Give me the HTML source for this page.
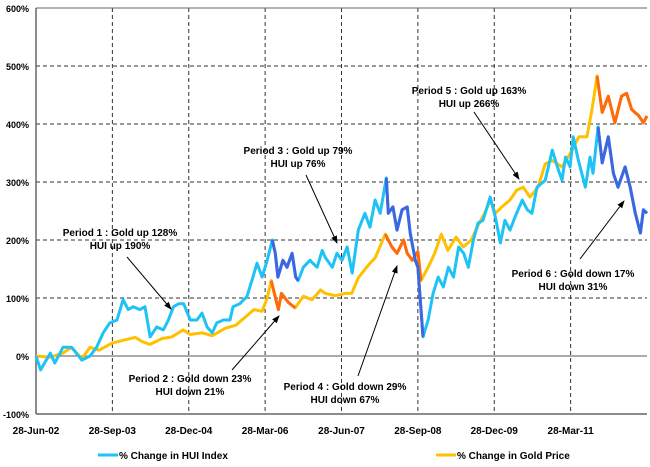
<!DOCTYPE html>
<html><head><meta charset="utf-8"><style>
body{margin:0;background:#fff;}
svg text{font-family:"Liberation Sans",Arial,sans-serif;font-weight:bold;fill:#000;}
</style></head><body>
<svg id="chart" width="650" height="462" viewBox="0 0 650 462" xmlns="http://www.w3.org/2000/svg">
<defs><marker id="ah" markerWidth="8" markerHeight="8" refX="7" refY="4" orient="auto" markerUnits="userSpaceOnUse"><path d="M0,1 L8,4 L0,7 Z" fill="#000"/></marker></defs>
<g id="grid"></g>
<g id="axes"></g>
<g id="series"></g>
<g id="notes"></g>
<g id="legend">
<line x1="98" y1="455" x2="118" y2="455" stroke="#1ec3f5" stroke-width="3"/>
<text x="119" y="459" font-size="10">% Change in HUI Index</text>
<line x1="436" y1="455" x2="456" y2="455" stroke="#ffc000" stroke-width="3"/>
<text x="457" y="459" font-size="10">% Change in Gold Price</text>
</g>
</svg>
<script>
const yTicks=[-100,0,100,200,300,400,500,600];
const xTickMonths=[0,15,30,45,60,75,90,105];
const xTickLabels=["28-Jun-02","28-Sep-03","28-Dec-04","28-Mar-06","28-Jun-07","28-Sep-08","28-Dec-09","28-Mar-11"];
const huiMonths=[0,0.9,2.8,3.7,5.3,7,9,10.6,11.9,13.2,14.5,15.9,17.1,18.1,19.1,20.4,21.4,22.4,23.7,25,26,27,28,29,30.3,31.6,32.6,33.6,34.6,35.5,36.8,38.1,38.7,40,41.4,42.4,43.4,44.4,45.4,46.4,47,47.5,48.5,49.3,50.3,51,51.5,52.5,53.8,55.2,56.2,56.8,58.2,59.1,60.1,61.1,62.1,63.3,64.6,65.6,66.6,67.6,68.8,69.2,70.1,70.9,71.9,72.9,73.5,74.5,75,76,77,78,79,80,81,82,83,84,84.9,85.9,86.8,87.8,89.2,90.2,91.2,92.1,93.1,94.1,95.5,96.5,97.4,98.4,100,101.4,102.4,103.3,104,104.9,105.5,106.5,107.9,108.8,109.4,110.4,111.2,112.4,113.4,114.3,115.7,116.7,117.7,118.7,119.3,120];
const huiValues=[0,-24,5,-12,15,15,-7,0,15,40,57,62,97,80,85,80,85,33,50,45,62,85,90,90,62,62,74,50,40,57,62,62,85,90,102,130,160,136,165,200,177,136,165,153,177,136,130,153,165,153,182,170,153,177,165,188,143,217,246,222,269,246,307,246,257,217,252,257,212,165,153,33,62,108,136,119,153,136,188,177,153,200,229,234,274,240,195,234,217,240,269,252,246,291,303,355,326,303,343,326,378,338,291,343,315,395,333,378,315,291,326,291,246,212,252,246];
const goldMonths=[0,2.8,5.3,7,9,10.6,12.4,14.9,17.5,19.5,20.8,22.4,24.7,26.7,28.9,30.3,32.6,34.6,37.2,39.2,41.1,42.8,44.4,45.4,46.2,47.6,48.2,49.6,50.9,52.5,54.2,55.9,56.8,58.8,60.7,62,63.3,65.3,66.6,68.6,69.9,70.9,72.2,72.9,73.9,75,75.6,77,78.3,79.6,80.9,82.5,83.9,85.5,86.8,88.1,89.2,90.2,91.5,93.1,94.4,95.7,97,98.6,100,101.4,103.3,105.3,106.6,108.2,109.2,110.2,111.2,112.4,113.7,115,116,117,118.4,119.3,120];
const goldValues=[0,-2,5,15,-5,15,10,22,28,32,25,20,30,33,45,37,40,35,48,53,67,80,77,100,130,80,108,92,83,103,97,114,108,104,108,108,135,157,169,210,188,177,200,177,165,180,130,153,177,210,182,205,188,200,225,246,269,246,257,269,286,291,274,291,331,337,326,355,378,378,425,483,420,448,402,448,453,425,414,402,414];
const huiDownStart=[46.4,68.8,110.4];
const huiDownEnd=[51.5,76,120];
const goldDownStart=[46.2,68.6,110.2];
const goldDownEnd=[50.9,75.6,120];

const NS="http://www.w3.org/2000/svg";
const X0=36,X1=647,Y0=414,Y1=8;
const xS=m=>X0+m*(X1-X0)/120;
const yS=v=>Y0-(v+100)*(Y0-Y1)/700;
function mk(tag,attrs,parent){const e=document.createElementNS(NS,tag);for(const k in attrs)e.setAttribute(k,attrs[k]);parent.appendChild(e);return e;}
const grid=document.getElementById('grid'),axes=document.getElementById('axes'),ser=document.getElementById('series');
yTicks.forEach(v=>{
  if(v!==-100&&v!==0){const l=mk('line',{x1:X0,x2:X1,y1:yS(v),y2:yS(v),stroke:'#333','stroke-width':1,'stroke-dasharray':'4,3'},grid);
  
  }
  const t=mk('text',{x:29,y:yS(v)+4,'text-anchor':'end','font-size':'9'},axes);t.textContent=v+'%';
  
  
});
xTickMonths.forEach((m,i)=>{
  if(m>0){const l=mk('line',{x1:xS(m),x2:xS(m),y1:Y1,y2:Y0,stroke:'#333','stroke-width':1,'stroke-dasharray':'4,3'},grid);
  
  }
  const t=mk('text',{x:xS(m),y:434,'text-anchor':'middle','font-size':'10'},axes);t.textContent=xTickLabels[i];
  
  
});
const zl=mk('line',{x1:X0,x2:X1,y1:yS(0),y2:yS(0),stroke:'#555','stroke-width':1},axes);


const ya=mk('line',{x1:X0,x2:X0,y1:Y1,y2:Y0,stroke:'#666','stroke-width':1.5},axes);


const xa=mk('line',{x1:X0,x2:X1,y1:Y0,y2:Y0,stroke:'#666','stroke-width':1.5},axes);


const ta=mk('line',{x1:X0,x2:X1,y1:Y1,y2:Y1,stroke:'#666','stroke-width':1},axes);


function path(ms,vs,lo,hi){let d='';ms.forEach((m,i)=>{if(m>=lo-0.01&&m<=hi+0.01)d+=(d?'L':'M')+xS(m).toFixed(1)+','+yS(vs[i]).toFixed(1);});return d;}
const g1=mk('path',{d:path(goldMonths,goldValues,0,120),fill:'none',stroke:'#ffc000','stroke-width':3,'stroke-linejoin':'round'},ser);


goldDownStart.forEach((s,i)=>{const p=mk('path',{d:path(goldMonths,goldValues,s,goldDownEnd[i]),fill:'none',stroke:'#ff6a10','stroke-width':3,'stroke-linejoin':'round'},ser);

});
const h1=mk('path',{d:path(huiMonths,huiValues,0,120),fill:'none',stroke:'#1ec3f5','stroke-width':3,'stroke-linejoin':'round'},ser);


huiDownStart.forEach((s,i)=>{const p=mk('path',{d:path(huiMonths,huiValues,s,huiDownEnd[i]),fill:'none',stroke:'#3d66e0','stroke-width':3,'stroke-linejoin':'round'},ser);

});
const notes=document.getElementById('notes');
const ann=[
 ["Period 1 : Gold up 128%","HUI up 190%",120,236,127,257,171,309],
 ["Period 2 : Gold down 23%","HUI down 21%",190,382,232,370,279,316],
 ["Period 3 : Gold up 79%","HUI up 76%",298,154,306,175,337,243],
 ["Period 4 : Gold down 29%","HUI down 67%",345,390,358,376,397,266],
 ["Period 5 : Gold up 163%","HUI up 266%",469,94,474,112,519,179],
 ["Period 6 : Gold down 17%","HUI down 31%",573,277,580,259,624,201]];
ann.forEach((a,i)=>{
 const t1=mk('text',{x:a[2],y:a[3],'text-anchor':'middle','font-size':'10'},notes);t1.textContent=a[0];
 
 
 const t2=mk('text',{x:a[2],y:a[3]+13,'text-anchor':'middle','font-size':'10'},notes);t2.textContent=a[1];
 
 
 const l=mk('line',{x1:a[4],y1:a[5],x2:a[6],y2:a[7],stroke:'#000','stroke-width':1,'marker-end':'url(#ah)'},notes);
 
 
});
</script>
</body></html>
